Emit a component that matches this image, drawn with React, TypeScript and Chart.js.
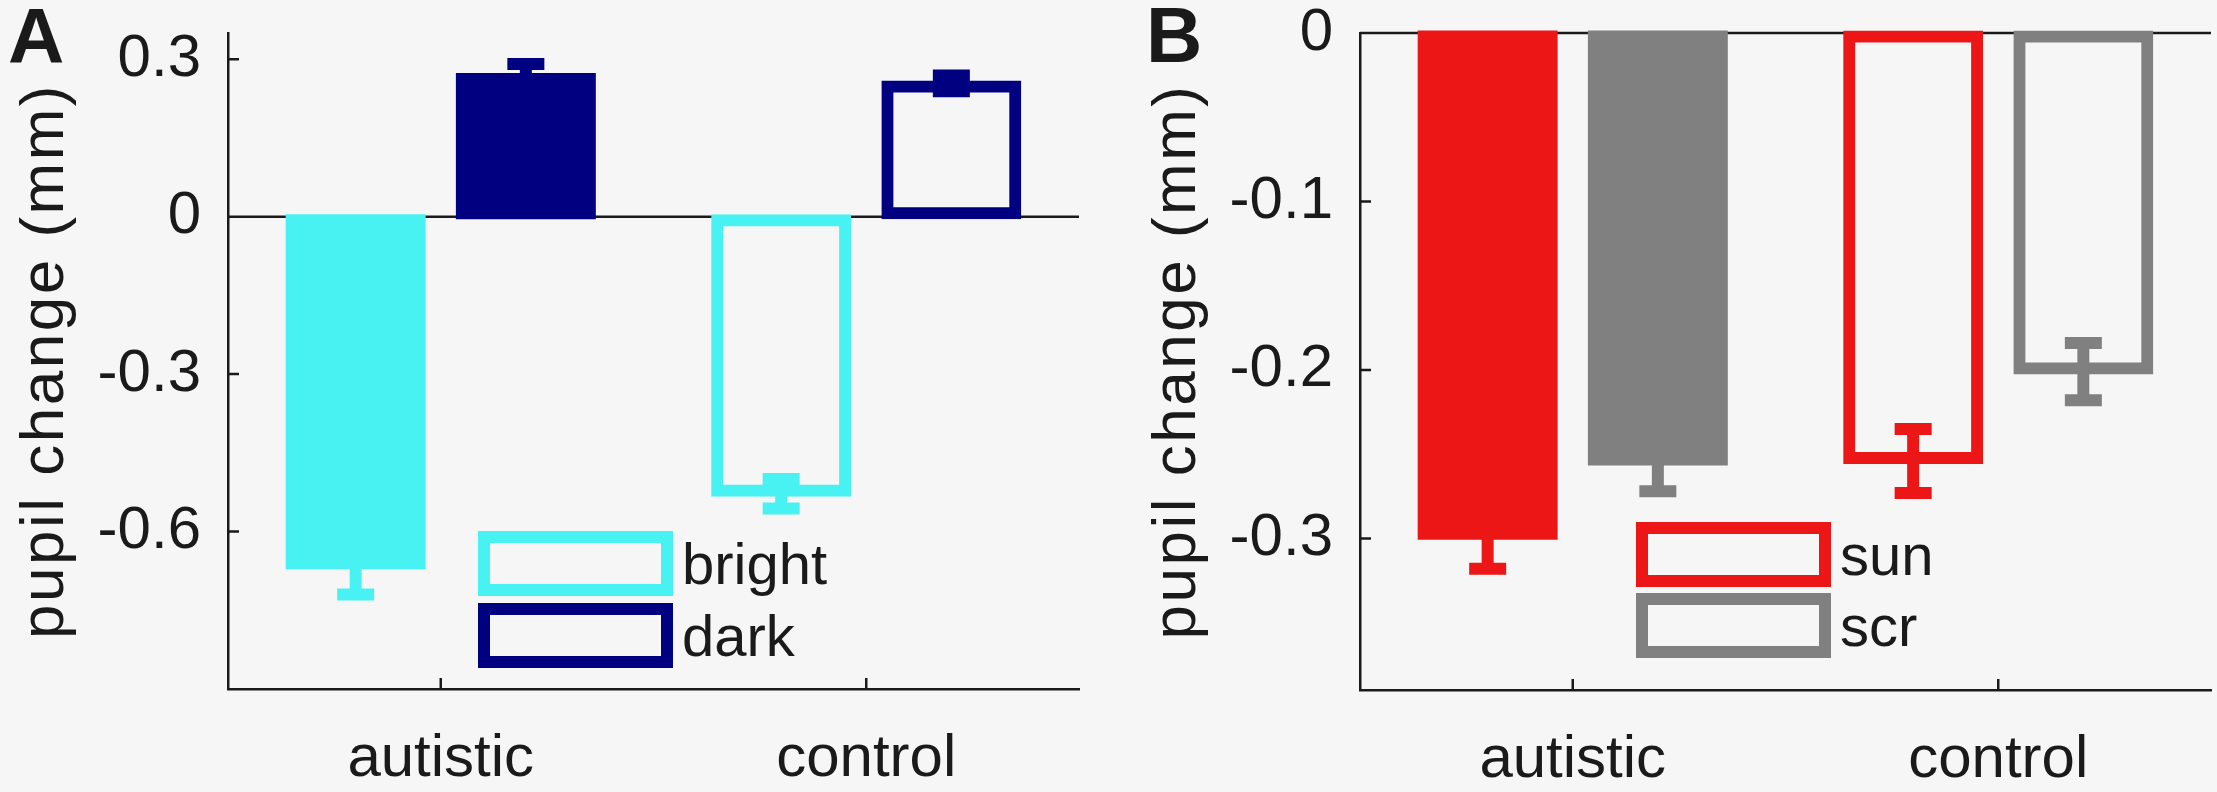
import { useEffect, useRef } from 'react';
import { Chart, registerables } from 'chart.js';
import type { Plugin } from 'chart.js';

Chart.register(...registerables);

const FONT = "'Liberation Sans', Arial, Helvetica, sans-serif";
const INK = '#1a1a1a';
const PAGE_BG = '#f6f6f6';
const CLEAR = 'rgba(0,0,0,0)';

// x categories shared by both panels
const groups = ['autistic', 'control'];

// panel A: pupil change to bright / dark (mm)
const brightMean = [-0.666, -0.528];
const brightErr = [0.054, 0.028];
const darkMean = [0.268, 0.254];
const darkErr = [0.023, 0.015];
const ticksA = [-0.6, -0.3, 0, 0.3];

// panel B: pupil change to sun / scr (mm)
const sunMean = [-0.299, -0.254];
const sunErr = [0.019, 0.019];
const scrMean = [-0.255, -0.201];
const scrErr = [0.017, 0.017];
const ticksB = [-0.3, -0.2, -0.1, 0];

type Series = { label: string; color: string; mean: number[]; err: number[] };

const seriesA: Series[] = [
  { label: 'bright', color: '#48f2f2', mean: brightMean, err: brightErr },
  { label: 'dark', color: '#000080', mean: darkMean, err: darkErr },
];
const seriesB: Series[] = [
  { label: 'sun', color: '#ec1616', mean: sunMean, err: sunErr },
  { label: 'scr', color: '#808080', mean: scrMean, err: scrErr },
];

// zero line + inward pointing ticks (matlab style)
const axisMarks: Plugin = {
  id: 'axisMarks',
  beforeDatasetsDraw(chart, _args, opts: any) {
    const { ctx, chartArea, scales } = chart;
    const y0 = scales.y.getPixelForValue(0);
    ctx.save();
    ctx.strokeStyle = INK;
    ctx.lineWidth = 2.5;
    ctx.beginPath();
    ctx.moveTo(chartArea.left, y0);
    ctx.lineTo(chartArea.right, y0);
    (opts.ticks as number[]).forEach((v) => {
      const y = scales.y.getPixelForValue(v);
      ctx.moveTo(chartArea.left, y);
      ctx.lineTo(chartArea.left + 11, y);
    });
    groups.forEach((_g, i) => {
      const x = scales.x.getPixelForValue(i);
      ctx.moveTo(x, chartArea.bottom);
      ctx.lineTo(x, chartArea.bottom - 11);
    });
    ctx.stroke();
    ctx.restore();
  },
};

const errorBars: Plugin = {
  id: 'errorBars',
  afterDatasetsDraw(chart) {
    const { ctx, scales } = chart;
    ctx.save();
    ctx.lineCap = 'butt';
    ctx.lineWidth = 12;
    chart.data.datasets.forEach((ds: any, i) => {
      const meta = chart.getDatasetMeta(i);
      ctx.strokeStyle = ds.borderColor;
      meta.data.forEach((bar: any, j) => {
        const v = ds.data[j] as number;
        const e = ds.errors[j] as number;
        const yHi = scales.y.getPixelForValue(v + e);
        const yLo = scales.y.getPixelForValue(v - e);
        ctx.beginPath();
        ctx.moveTo(bar.x, yHi);
        ctx.lineTo(bar.x, yLo);
        ctx.moveTo(bar.x - 18.5, yHi);
        ctx.lineTo(bar.x + 18.5, yHi);
        ctx.moveTo(bar.x - 18.5, yLo);
        ctx.lineTo(bar.x + 18.5, yLo);
        ctx.stroke();
      });
    });
    ctx.restore();
  },
};

const boxLegend: Plugin = {
  id: 'boxLegend',
  afterDraw(chart, _args, opts: any) {
    const { ctx, chartArea } = chart;
    const w = 195;
    const h = 65;
    ctx.save();
    ctx.lineWidth = 12;
    ctx.font = `58px ${FONT}`;
    ctx.textAlign = 'left';
    ctx.textBaseline = 'alphabetic';
    chart.data.datasets.forEach((ds: any, i) => {
      const x = chartArea.left + opts.left;
      const y = chartArea.top + opts.top + i * (h + opts.gap);
      ctx.strokeStyle = ds.borderColor;
      ctx.strokeRect(x + 6, y + 6, w - 12, h - 12);
      ctx.fillStyle = INK;
      ctx.fillText(ds.label, x + w + 9, y + h / 2 + 20);
    });
    ctx.restore();
  },
};

const panelText: Plugin = {
  id: 'panelText',
  afterDraw(chart, _args, opts: any) {
    const { ctx, chartArea } = chart;
    ctx.save();
    ctx.fillStyle = INK;
    ctx.font = `bold 78px ${FONT}`;
    ctx.textAlign = 'left';
    ctx.textBaseline = 'alphabetic';
    ctx.fillText(opts.letter, chartArea.left - opts.letterOffset, opts.letterBaseline);
    ctx.translate(chartArea.left - 182, (chartArea.top + chartArea.bottom) / 2);
    ctx.rotate(-Math.PI / 2);
    ctx.font = `62px ${FONT}`;
    ctx.textAlign = 'center';
    ctx.textBaseline = 'middle';
    (ctx as any).letterSpacing = '2.5px';
    ctx.fillText('pupil change (mm)', 0, 0);
    (ctx as any).letterSpacing = '0px';
    ctx.restore();
  },
};

type PanelProps = {
  letter: string;
  series: Series[];
  ticks: number[];
  yMin: number;
  yMax: number;
  left: number;
  width: number;
  yAxisWidth: number;
  padRight: number;
  xAxisHeight: number;
  legendLeft: number;
  legendTop: number;
  legendGap: number;
  letterOffset: number;
  letterBaseline: number;
};

const HEIGHT = 792;

function Panel(p: PanelProps) {
  const canvasRef = useRef<HTMLCanvasElement | null>(null);

  useEffect(() => {
    if (!canvasRef.current) return;
    const chart = new Chart(canvasRef.current, {
      type: 'bar',
      data: {
        labels: groups,
        datasets: p.series.map((s) => ({
          label: s.label,
          data: s.mean,
          errors: s.err,
          borderColor: s.color,
          // autistic bars filled, control bars open
          backgroundColor: [s.color, CLEAR],
          borderWidth: [0, 6],
          inflateAmount: 3,
          borderSkipped: false,
          clip: false,
          categoryPercentage: 0.8,
          barPercentage: 0.787,
        })) as any,
      },
      options: {
        responsive: false,
        animation: false,
        layout: { padding: { top: 33, right: p.padRight, left: 0, bottom: 0 } },
        plugins: {
          legend: { display: false },
          tooltip: { enabled: false },
          axisMarks: { ticks: p.ticks },
          boxLegend: { left: p.legendLeft, top: p.legendTop, gap: p.legendGap },
          panelText: {
            letter: p.letter,
            letterOffset: p.letterOffset,
            letterBaseline: p.letterBaseline,
          },
        } as any,
        scales: {
          x: {
            type: 'category',
            offset: true,
            grid: { drawOnChartArea: false, drawTicks: false },
            border: { display: true, color: INK, width: 2.5 },
            ticks: { color: INK, font: { family: FONT, size: 60 }, padding: 34 },
            afterFit: (scale: any) => {
              scale.height = p.xAxisHeight;
              scale.paddingLeft = 0;
              scale.paddingRight = 0;
            },
          },
          y: {
            type: 'linear',
            min: p.yMin,
            max: p.yMax,
            grid: { drawOnChartArea: false, drawTicks: false },
            border: { display: true, color: INK, width: 2.5 },
            ticks: {
              color: INK,
              font: { family: FONT, size: 60 },
              padding: 27,
              callback: (v: any) => String(v),
            },
            afterBuildTicks: (scale: any) => {
              scale.ticks = p.ticks.map((value) => ({ value }));
            },
            afterFit: (scale: any) => {
              scale.width = p.yAxisWidth;
              scale.paddingTop = 0;
              scale.paddingBottom = 0;
            },
          },
        },
      },
      plugins: [axisMarks, errorBars, boxLegend, panelText],
    });
    return () => chart.destroy();
  }, []);

  return (
    <canvas
      ref={canvasRef}
      width={p.width}
      height={HEIGHT}
      style={{ position: 'absolute', left: p.left, top: 0, width: p.width, height: HEIGHT }}
    />
  );
}

export default function App() {
  return (
    <div
      style={{
        position: 'fixed',
        left: 0,
        top: 0,
        width: 2217,
        height: HEIGHT,
        background: PAGE_BG,
        overflow: 'hidden',
      }}
    >
      <Panel
        letter="A"
        series={seriesA}
        ticks={ticksA}
        yMin={-0.9}
        yMax={0.35}
        left={0}
        width={1100}
        yAxisWidth={228}
        padRight={21}
        xAxisHeight={103}
        legendLeft={250}
        legendTop={498}
        legendGap={7}
        letterOffset={220}
        letterBaseline={63}
      />
      <Panel
        letter="B"
        series={seriesB}
        ticks={ticksB}
        yMin={-0.39}
        yMax={0}
        left={1100}
        width={1117}
        yAxisWidth={260}
        padRight={6}
        xAxisHeight={102}
        legendLeft={276}
        legendTop={489}
        legendGap={6}
        letterOffset={214}
        letterBaseline={62}
      />
    </div>
  );
}
